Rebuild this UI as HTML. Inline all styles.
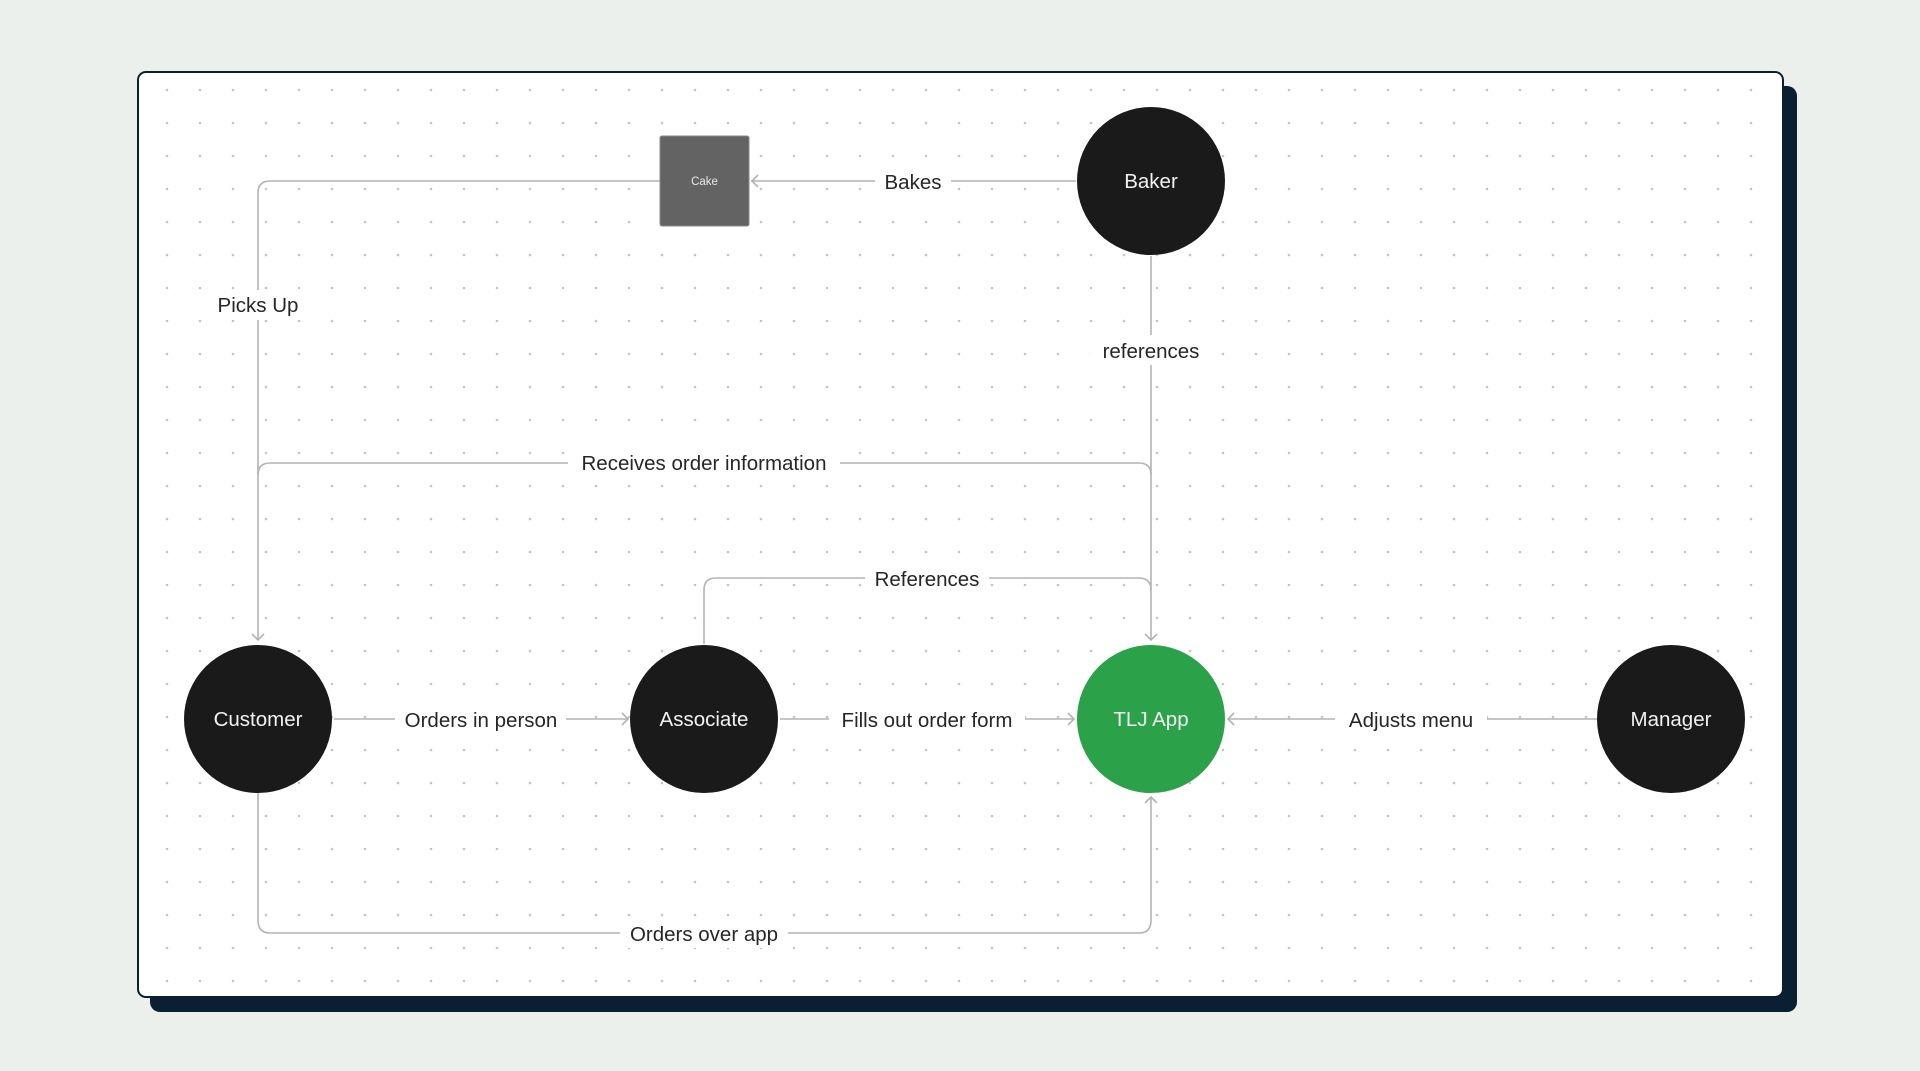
<!DOCTYPE html>
<html><head><meta charset="utf-8"><style>
html,body{margin:0;padding:0;background:#ebf0ec;}
svg{display:block;}
text{font-family:"Liberation Sans",sans-serif;}
</style></head><body>
<svg width="1920" height="1071" viewBox="0 0 1920 1071" xmlns="http://www.w3.org/2000/svg">
<defs>
<pattern id="dots" x="0" y="0" width="33" height="33" patternUnits="userSpaceOnUse" patternTransform="translate(150,73)">
<circle cx="17" cy="17" r="1.3" fill="#c4c4c4"/>
</pattern>
</defs>
<rect width="1920" height="1071" fill="#ebf0ec"/>
<rect x="150" y="86" width="1647" height="926" rx="10" fill="#0b1f33"/>
<rect x="138" y="72" width="1645" height="925" rx="8" fill="#fff" stroke="#0b1f33" stroke-width="2"/>
<rect x="142" y="76" width="1637" height="917" fill="url(#dots)"/>
<g fill="none" stroke="#b3b3b3" stroke-width="1.6">
<!-- cake to customer -->
<path d="M660 181 H270 Q258 181 258 193 V640"/>
<!-- receives order info -->
<path d="M1151 475 Q1151 463 1139 463 H270 Q258 463 258 475"/>
<!-- baker to TLJ -->
<path d="M1151 256 V640"/>
<!-- associate references -->
<path d="M704 644 V590 Q704 578 716 578 H1139 Q1151 578 1151 590"/>
<!-- bakes -->
<path d="M1076 181 H751"/>
<!-- orders in person -->
<path d="M334 719 H628"/>
<!-- fills out -->
<path d="M780 719 H1074"/>
<!-- adjusts menu -->
<path d="M1597 719 H1228"/>
<!-- orders over app -->
<path d="M258 793 V920 Q258 933 270 933 H1139 Q1151 933 1151 920 V797"/>
<!-- arrowheads -->
<path d="M758 175 L752 181 L758 187"/>
<path d="M252 634 L258 640 L264 634"/>
<path d="M1145 634 L1151 640 L1157 634"/>
<path d="M622 713 L628 719 L622 725"/>
<path d="M1068 713 L1074 719 L1068 725"/>
<path d="M1234 713 L1228 719 L1234 725"/>
<path d="M1145 803 L1151 797 L1157 803"/>
</g>
<!-- label backgrounds -->
<g fill="#fff">
<rect x="875" y="166" width="76" height="30"/>
<rect x="208" y="290" width="100" height="30"/>
<rect x="1090" y="335" width="122" height="30"/>
<rect x="568" y="448" width="272" height="30"/>
<rect x="865" y="563" width="124" height="30"/>
<rect x="395" y="704" width="171" height="30"/>
<rect x="829" y="704" width="196" height="30"/>
<rect x="1335" y="704" width="152" height="30"/>
<rect x="620" y="918" width="168" height="30"/>
</g>
<g font-size="20.5" fill="#262626" text-anchor="middle">
<text x="913" y="189">Bakes</text>
<text x="258" y="312">Picks Up</text>
<text x="1151" y="358">references</text>
<text x="704" y="470">Receives order information</text>
<text x="927" y="586">References</text>
<text x="481" y="727">Orders in person</text>
<text x="927" y="727">Fills out order form</text>
<text x="1411" y="727">Adjusts menu</text>
<text x="704" y="941">Orders over app</text>
</g>
<rect x="660" y="136" width="89" height="90" rx="2" fill="#636363" stroke="#8a8a8a" stroke-width="1"/>
<text x="704.5" y="185" font-size="11.5" fill="#e8e8e8" text-anchor="middle">Cake</text>
<circle cx="1151" cy="181" r="74" fill="#1a1a1a"/>
<circle cx="258" cy="719" r="74" fill="#1a1a1a"/>
<circle cx="704" cy="719" r="74" fill="#1a1a1a"/>
<circle cx="1151" cy="719" r="74" fill="#2ba24a"/>
<circle cx="1671" cy="719" r="74" fill="#1a1a1a"/>
<g font-size="20.5" fill="#f2f2f2" text-anchor="middle">
<text x="1151" y="188">Baker</text>
<text x="258" y="726">Customer</text>
<text x="704" y="726">Associate</text>
<text x="1151" y="726">TLJ App</text>
<text x="1671" y="726">Manager</text>
</g>
</svg>
</body></html>
